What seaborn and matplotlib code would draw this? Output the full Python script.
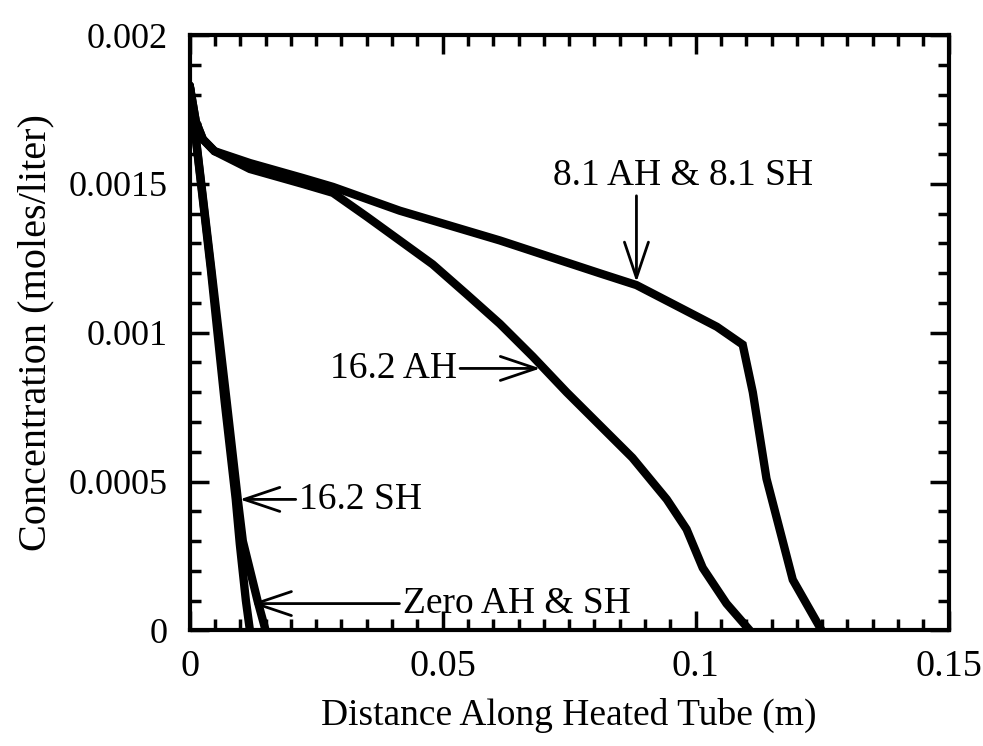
import numpy as np
import pandas as pd
import matplotlib
matplotlib.use('Agg')
import matplotlib.pyplot as plt
from matplotlib.ticker import MultipleLocator
import seaborn as sns

# ---- data (distance m, concentration moles/liter) ----
x_81 = [0.0, 0.0012, 0.0026, 0.0049, 0.0119, 0.0223, 0.0283, 0.0415, 0.0613,
        0.0810, 0.0883, 0.0974, 0.1042, 0.1093, 0.1113, 0.1140, 0.1192, 0.1249]
y_81 = [0.00183, 0.00171, 0.00165, 0.00161, 0.00157, 0.00152, 0.00149, 0.00141,
        0.00131, 0.00120, 0.00116, 0.00108, 0.00102, 0.00096, 0.00080, 0.00051,
        0.00017, 0.0]

x_162ah = [0.0, 0.0012, 0.0026, 0.0049, 0.0119, 0.0223, 0.0283, 0.0350, 0.0415,
           0.0480, 0.0547, 0.0613, 0.0678, 0.0745, 0.0810, 0.0875, 0.0943,
           0.0982, 0.1014, 0.1061, 0.1107]
y_162ah = [0.00183, 0.00171, 0.00165, 0.00161, 0.00155, 0.00150, 0.00147,
           0.00139, 0.00131, 0.00123, 0.00113, 0.00103, 0.00092, 0.00080,
           0.00069, 0.00058, 0.00044, 0.00034, 0.00021, 0.00009, 0.0]

x_zero = [0.0, 0.0042, 0.0069, 0.0091, 0.0099, 0.0111, 0.0119]
y_zero = [0.00183, 0.00121, 0.00077, 0.00044, 0.00029, 0.00010, 0.0]

x_162sh = [0.0, 0.0043, 0.0073, 0.0095, 0.0105, 0.0134, 0.0150]
y_162sh = [0.00183, 0.00121, 0.00077, 0.00044, 0.00030, 0.00010, 0.0]

x_ticks = [0, 0.05, 0.1, 0.15]
x_ticklabels = ['0', '0.05', '0.1', '0.15']
y_ticks = [0, 0.0005, 0.001, 0.0015, 0.002]
y_ticklabels = ['0', '0.0005', '0.001', '0.0015', '0.002']

series = [('8.1 AH & 8.1 SH', x_81, y_81),
          ('16.2 AH', x_162ah, y_162ah),
          ('Zero AH & SH', x_zero, y_zero),
          ('16.2 SH', x_162sh, y_162sh)]

df = pd.concat([pd.DataFrame({'x': xs, 'y': ys, 'case': name})
                for name, xs, ys in series], ignore_index=True)

# ---- style ----
sns.set_style('ticks')
plt.rcParams['font.family'] = ['Liberation Serif', 'DejaVu Serif']
plt.rcParams['text.color'] = 'black'
plt.rcParams['axes.labelcolor'] = 'black'

fig = plt.figure(figsize=(9.83, 7.46), dpi=100)
ax = fig.add_axes([0.193, 0.155, 0.772, 0.798])

for name, xs, ys in series:
    sns.lineplot(data=df[df['case'] == name], x='x', y='y', estimator=None,
                 sort=False, color='black', lw=6, ax=ax,
                 solid_joinstyle='miter', legend=False)

ax.set_xlim(0, 0.15)
ax.set_ylim(0, 0.002)
ax.set_xticks(x_ticks)
ax.set_xticklabels(x_ticklabels)
ax.set_yticks(y_ticks)
ax.set_yticklabels(y_ticklabels)
ax.xaxis.set_minor_locator(MultipleLocator(0.005))
ax.yaxis.set_minor_locator(MultipleLocator(0.0001))

ax.tick_params(which='both', direction='in', top=True, right=True,
               color='black', labelsize=26, labelcolor='black')
ax.tick_params(which='major', length=14, width=2.5)
ax.tick_params(which='minor', length=8, width=2.5)
ax.tick_params(axis='x', which='major', pad=14, labelsize=27.5)
ax.tick_params(axis='y', which='major', pad=16)
for s in ax.spines.values():
    s.set_linewidth(3)
    s.set_color('black')

ax.set_xlabel('Distance Along Heated Tube (m)', fontsize=27, labelpad=10)
ax.set_ylabel('Concentration (moles/liter)', fontsize=29, labelpad=10)

arrow = dict(arrowstyle='->, head_length=0.95, head_width=0.32', lw=2,
             color='black', shrinkA=0, shrinkB=0)
# 8.1 label sits off-centre above a vertical arrow
ax.text(0.0976, 0.00147, '8.1 AH & 8.1 SH', fontsize=27, ha='center', va='bottom')
ax.annotate('', xy=(0.0883, 0.00117), xytext=(0.0883, 0.00146),
            fontsize=27, arrowprops=arrow)
ax.annotate('16.2 AH', xy=(0.0693, 0.00088), xytext=(0.0528, 0.00088),
            fontsize=27, ha='right', va='center', arrowprops=arrow)
ax.annotate('16.2 SH', xy=(0.0099, 0.00044), xytext=(0.0216, 0.00044),
            fontsize=27, ha='left', va='center', arrowprops=arrow)
ax.annotate('Zero AH & SH', xy=(0.0122, 0.00009), xytext=(0.0421, 0.00009),
            fontsize=27, ha='left', va='center', arrowprops=arrow)

fig.savefig('out.png', dpi=100)
